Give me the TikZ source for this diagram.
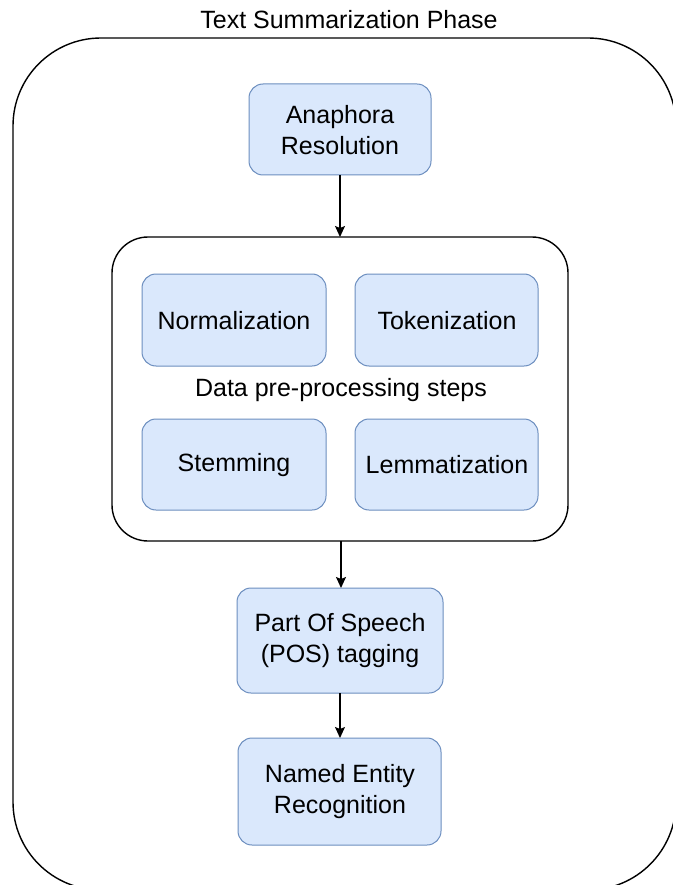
\documentclass[tikz,border=0pt]{standalone}
\usepackage{fontspec}
\setmainfont{Liberation Sans}
\usetikzlibrary{arrows.meta}
\definecolor{boxfill}{HTML}{DAE8FC}
\definecolor{boxdraw}{HTML}{6C8EBF}
\begin{document}
\begin{tikzpicture}[x=1pt,y=-1pt,
  bluebox/.style={draw=boxdraw, fill=boxfill, line width=1pt, rounded corners=14pt},
  lbl/.style={font=\fontsize{25}{31}\selectfont, align=center, inner sep=0pt},
  conn/.style={draw=black, line width=1.3pt, -{Stealth[length=11pt,width=10pt,inset=2pt]}}]
\useasboundingbox (0,0) rectangle (672,885);
\fill[white] (0,0) rectangle (672,885);
% outer frame
\draw[line width=1.4pt, rounded corners=88pt] (13,38) rectangle (676,890);
\node[lbl] (title) at (349,20) {Text Summarization Phase};
% anaphora
\draw[bluebox] (249,84) rectangle (431,175);
\node[lbl] (ana) at (340,130) {Anaphora\\Resolution};
\coordinate (anaB) at (340,175);
% inner container
\draw[line width=1.4pt, rounded corners=36pt] (112,237) rectangle (568,541);
\coordinate (contT) at (340,237);
\coordinate (contB) at (341,541);
\draw[bluebox] (142,274) rectangle (326,366);
\node[lbl] (norm) at (234,321) {Normalization};
\draw[bluebox] (355,274) rectangle (538,366);
\node[lbl] (tok) at (447,321) {Tokenization};
\node[lbl] (dps) at (341,390) {Data pre-processing steps};
\draw[bluebox] (142,419) rectangle (326,510);
\node[lbl] (stem) at (234,465) {Stemming};
\draw[bluebox] (355,419) rectangle (538,510);
\node[lbl] (lem) at (447,465) {Lemmatization};
% POS
\draw[bluebox] (237,588) rectangle (443,693);
\node[lbl] (pos) at (340,641) {Part Of Speech\\(POS) tagging};
\coordinate (posT) at (341,588);
\coordinate (posB) at (340,693);
% NER
\draw[bluebox] (238,738) rectangle (441,845);
\node[lbl] (ner) at (340,792) {Named Entity\\Recognition};
\coordinate (nerT) at (340,738);
% connectors
\draw[conn] (anaB) -- (contT);
\draw[conn] (contB) -- (posT);
\draw[conn] (posB) -- (nerT);
\end{tikzpicture}
\end{document}
